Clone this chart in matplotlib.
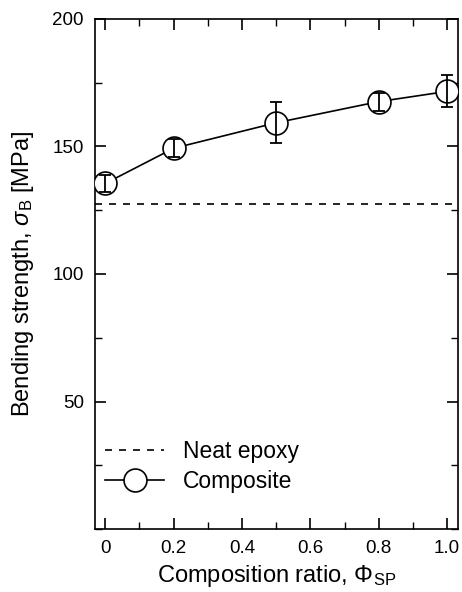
import matplotlib
matplotlib.use("Agg")
import matplotlib.pyplot as plt
from matplotlib.ticker import MultipleLocator

plt.rcParams['font.family'] = ['Liberation Sans', 'DejaVu Sans']
plt.rcParams['mathtext.fontset'] = 'custom'
plt.rcParams['mathtext.rm'] = 'Liberation Sans'
plt.rcParams['mathtext.it'] = 'Liberation Sans:italic'
plt.rcParams['mathtext.cal'] = 'Liberation Sans'

ratio = [0.0, 0.2, 0.5, 0.8, 1.0]
strength = [135.5, 149.3, 159.3, 167.6, 171.6]
err = [3.5, 3.5, 8.0, 3.5, 6.3]
neat_epoxy = 127.5

fig = plt.figure(figsize=(4.62, 5.92), dpi=100)
ax = fig.add_axes([95/462, 1-529/592, (458-95)/462, (529-19)/592])

ax.axhline(neat_epoxy, color='black', lw=1.2, ls=(0, (4.2, 4.2)), label='Neat epoxy')
ax.plot(ratio, strength, color='black', lw=1.2, marker='o',
        ms=16.5, mfc='white', mec='black', mew=1.2, label='Composite', zorder=3)
ax.errorbar(ratio, strength, yerr=err, fmt='none', ecolor='black',
            elinewidth=1.3, capsize=4.2, capthick=1.3, zorder=4)

ax.set_xlim(-0.03, 1.032)
ax.set_ylim(0, 200)
ax.xaxis.set_minor_locator(MultipleLocator(0.1))
ax.yaxis.set_minor_locator(MultipleLocator(25))
ax.set_yticks([50, 100, 150, 200])
ax.set_xticks([0, 0.2, 0.4, 0.6, 0.8, 1.0])
ax.set_xticklabels(['0', '0.2', '0.4', '0.6', '0.8', '1.0'])
ax.tick_params(which='both', direction='in', top=True, right=True, labelsize=13.5, pad=8)
ax.tick_params(which='major', length=8, width=1.2)
ax.tick_params(which='minor', length=5, width=1.0)
for s in ax.spines.values():
    s.set_linewidth(1.2)

ax.set_xlabel(r'Composition ratio, $\Phi_{\rm SP}$', fontsize=17, labelpad=4)
ax.set_ylabel(r'Bending strength, $\sigma_{\rm B}$ [MPa]', fontsize=17, labelpad=12)

leg = ax.legend(loc='center left', bbox_to_anchor=(0.027, 0.122), frameon=False,
                fontsize=16.5, handlelength=2.6, handletextpad=0.8, labelspacing=0.3,
                borderpad=0, borderaxespad=0)
for line in leg.get_lines():
    line.set_markersize(16.5)

fig.savefig('out.png', dpi=100)
